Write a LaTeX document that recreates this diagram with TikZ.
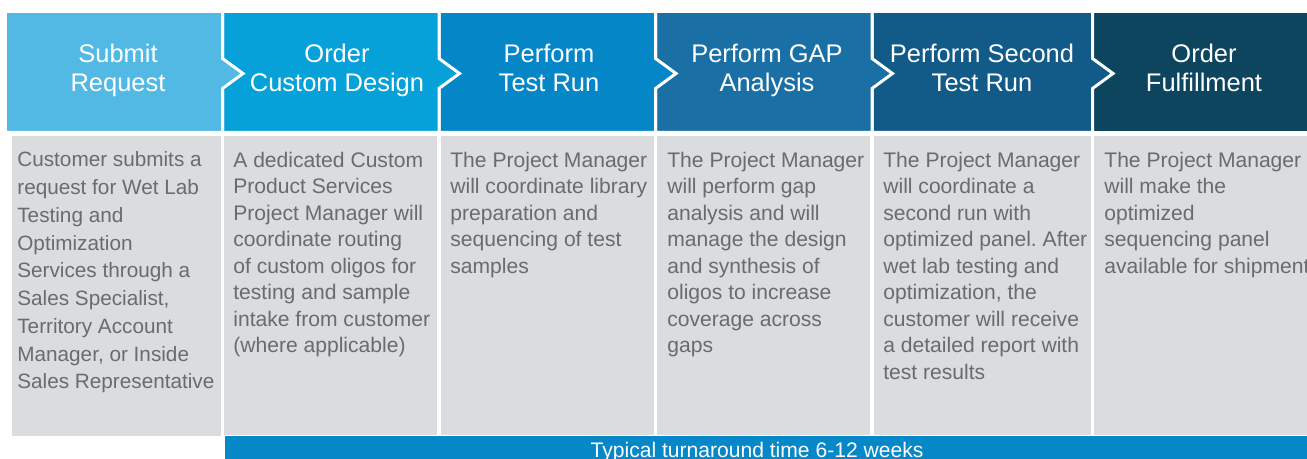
\documentclass[tikz,border=0pt]{standalone}
\usepackage{fontspec}
\setmainfont{Liberation Sans}
\frenchspacing
\definecolor{stepA}{HTML}{52B9E4}
\definecolor{stepB}{HTML}{06A1D9}
\definecolor{stepC}{HTML}{0486C7}
\definecolor{stepD}{HTML}{1A6FA4}
\definecolor{stepE}{HTML}{125A87}
\definecolor{stepF}{HTML}{0D455F}
\definecolor{cellgray}{HTML}{DBDCDE}
\definecolor{bodygray}{HTML}{6A6B6D}
\definecolor{barblue}{HTML}{0587C8}
\tikzset{
  head/.style={text=white, font=\fontsize{14.5}{17}\selectfont, align=center, anchor=base, inner sep=0pt},
  body/.style={text=bodygray, font=\fontsize{12}{15.1}\selectfont, align=left, anchor=north west, inner sep=0pt},
  gap/.style={draw=white, line width=0.06cm, line join=miter},
}
\begin{document}
\begin{tikzpicture}[x=0.02cm, y=-0.02cm]
\useasboundingbox (0,0) rectangle (1307,459);

\fill[gap, fill=stepF] (1092.5,11.5) rectangle (1320,132.5);
\fill[gap, fill=stepE] (872,11.5) -- (1092.5,11.5) -- (1092.5,58.5) -- (1113,73.5) -- (1092.5,88.5) -- (1092.5,132.5) -- (872,132.5) -- cycle;
\fill[gap, fill=stepD] (655.5,11.5) -- (872,11.5) -- (872,58.5) -- (892.5,73.5) -- (872,88.5) -- (872,132.5) -- (655.5,132.5) -- cycle;
\fill[gap, fill=stepC] (439,11.5) -- (655.5,11.5) -- (655.5,58.5) -- (676,73.5) -- (655.5,88.5) -- (655.5,132.5) -- (439,132.5) -- cycle;
\fill[gap, fill=stepB] (222.5,11.5) -- (439,11.5) -- (439,58.5) -- (459.5,73.5) -- (439,88.5) -- (439,132.5) -- (222.5,132.5) -- cycle;
\fill[gap, fill=stepA] (5.5,11.5) -- (222.5,11.5) -- (222.5,58.5) -- (243,73.5) -- (222.5,88.5) -- (222.5,132.5) -- (5.5,132.5) -- cycle;

\fill[cellgray] (12,136) rectangle (221,436);
\fill[cellgray] (224,136) rectangle (437,435);
\fill[cellgray] (441,136) rectangle (654,435);
\fill[cellgray] (657,136) rectangle (870,435);
\fill[cellgray] (874,136) rectangle (1091,435);
\fill[cellgray] (1094,136) rectangle (1307,435);
\fill[barblue] (225,436) rectangle (1307,460);

\node[head] (submit) at (118,92) {Submit\\Request};
\node[head] (design) at (337,92) {Order\\Custom Design};
\node[head] (testrun) at (549,92) {Perform\\Test Run};
\node[head] (gap) at (767,92) {Perform GAP\\Analysis};
\node[head] (second) at (982,92) {Perform Second\\Test Run};
\node[head] (fulfil) at (1204,92) {Order\\Fulfillment};

\node[body, font=\fontsize{11.8}{15.8}\selectfont] (submittxt) at (17,151.5) {Customer submits a\\request for Wet Lab\\Testing and\\Optimization\\Services through a\\Sales Specialist,\\Territory Account\\Manager, or Inside\\Sales Representative};
\node[body] (designtxt) at (233,151.5) {A dedicated Custom\\Product Services\\Project Manager will\\coordinate routing\\of custom oligos for\\testing and sample\\intake from customer\\(where applicable)};
\node[body] (testruntxt) at (450,151.5) {The Project Manager\\will coordinate library\\preparation and\\sequencing of test\\samples};
\node[body] (gaptxt) at (667,151.5) {The Project Manager\\will perform gap\\analysis and will\\manage the design\\and synthesis of\\oligos to increase\\coverage across\\gaps};
\node[body] (secondtxt) at (883,151.5) {The Project Manager\\will coordinate a\\second run with\\optimized panel. After\\wet lab testing and\\optimization, the\\customer will receive\\a detailed report with\\test results};
\node[body] (fulfiltxt) at (1104,151.5) {The Project Manager\\will make the\\optimized\\sequencing panel\\available for shipment};

\node[text=white, font=\fontsize{12}{14}\selectfont, anchor=base, inner sep=0pt] (turnaround) at (757,457) {Typical turnaround time 6-12 weeks};
\end{tikzpicture}
\end{document}
